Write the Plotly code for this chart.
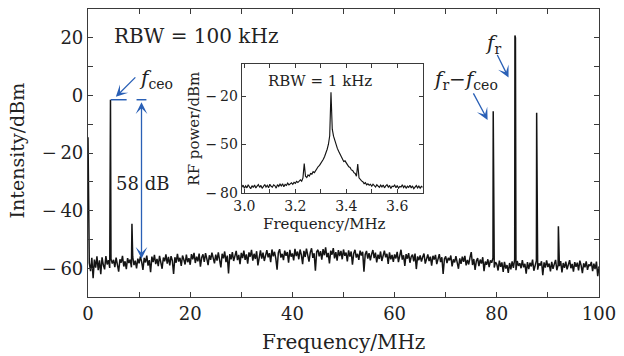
import numpy as np
import plotly.graph_objects as go

# ---------------- data ----------------
# main spectrum: noise floor sampled every 0.25 MHz from 0 to 100 MHz (dBm)
main_step = 0.25
main_noise = [
    -14.5, -58.2, -61.0, -56.4, -63.5, -57.0, -59.8, -55.9, -60.7, -57.3, -62.1, -56.2, -58.9, -60.4, -55.8, -58.7, -57.2, -59.9, -56.8, -58.4,
    -57.1, -59.6, -56.3, -58.8, -61.2, -56.9, -58.1, -55.7, -59.4, -57.6, -60.3, -56.5, -58.2, -57.0, -59.7, -56.1, -58.9, -57.4, -60.1, -56.7,
    -58.3, -55.9, -57.8, -60.6, -56.4, -58.0, -55.6, -59.1, -57.2, -61.4, -56.0, -57.9, -55.4, -58.6, -56.8, -59.3, -55.7, -57.5, -60.2, -56.3,
    -57.6, -55.2, -58.4, -56.1, -59.0, -55.8, -57.3, -62.0, -56.2, -58.1, -55.0, -57.7, -56.4, -59.2, -55.6, -57.0, -58.7, -55.3, -57.9, -56.5,
    -58.8, -55.1, -56.9, -54.7, -58.2, -56.0, -57.6, -54.9, -59.5, -56.3, -55.2, -57.8, -54.8, -56.7, -58.9, -55.5, -57.1, -54.6, -56.4, -58.3,
    -55.3, -57.4, -54.5, -56.8, -59.7, -55.0, -56.6, -54.2, -57.9, -55.6, -61.8, -55.1, -56.9, -54.4, -57.5, -55.8, -54.0, -57.2, -55.4, -58.6,
    -54.7, -56.5, -53.9, -57.1, -55.2, -58.4, -54.5, -56.0, -53.6, -57.4, -55.0, -56.8, -54.1, -59.0, -55.3, -53.8, -56.7, -54.6, -57.5, -55.1,
    -53.7, -56.2, -54.8, -57.9, -53.5, -55.9, -54.3, -56.6, -60.5, -54.6, -53.4, -56.3, -55.0, -57.2, -53.9, -55.7, -54.4, -58.1, -53.6, -56.0,
    -54.9, -57.3, -53.3, -55.8, -54.2, -56.9, -53.5, -55.4, -58.6, -54.0, -56.1, -53.2, -55.6, -57.7, -54.5, -53.1, -56.4, -54.8, -60.9, -54.3,
    -53.6, -55.9, -54.1, -57.0, -53.4, -55.5, -52.8, -56.2, -54.7, -58.3, -53.9, -55.3, -53.0, -56.6, -54.4, -57.4, -53.7, -55.8, -54.0, -56.9,
    -53.5, -55.7, -54.6, -57.6, -53.8, -56.0, -54.2, -58.8, -54.9, -53.6, -56.3, -55.0, -57.1, -53.9, -55.6, -54.3, -61.2, -55.2, -54.0, -56.7,
    -54.8, -57.3, -55.1, -53.7, -56.5, -54.6, -58.0, -55.3, -56.8, -54.2, -57.5, -55.7, -53.9, -56.2, -55.0, -58.5, -54.5, -56.9, -55.4, -57.8,
    -55.2, -56.6, -54.3, -57.9, -55.8, -53.6, -57.0, -55.5, -59.2, -55.1, -56.7, -54.8, -58.1, -56.0, -55.3, -57.6, -54.9, -60.3, -55.9, -57.2,
    -55.6, -57.7, -56.1, -54.9, -58.4, -56.3, -55.2, -57.5, -56.0, -59.1, -55.7, -57.0, -55.4, -58.6, -56.5, -55.1, -57.9, -56.2, -62.0, -56.8,
    -55.9, -58.2, -56.4, -57.3, -55.6, -59.4, -56.9, -58.0, -55.8, -57.6, -60.2, -56.6, -58.5, -56.0, -57.8, -55.7, -59.0, -57.1, -58.7, -56.3,
    -54.4, -58.9, -56.8, -60.6, -57.5, -56.5, -59.3, -57.0, -58.4, -56.2, -61.0, -57.7, -58.8, -56.9, -59.6, -57.3, -58.1, -56.4, -59.8, -57.9,
    -58.6, -60.8, -57.4, -59.5, -58.0, -61.3, -57.8, -60.1, -58.9, -61.6, -58.2, -60.4, -57.6, -59.9, -56.9, -60.7, -57.5, -59.2, -58.3, -60.0,
    -57.2, -59.7, -58.5, -61.9, -57.9, -60.3, -58.1, -59.4, -57.0, -60.9, -58.7, -57.4, -60.5, -58.3, -59.1, -57.6, -62.4, -58.0, -59.8, -57.3,
    -59.6, -58.4, -61.1, -57.8, -60.2, -58.6, -57.1, -60.7, -58.9, -59.3, -57.5, -61.5, -58.2, -59.9, -57.7, -60.4, -58.8, -57.2, -60.0, -58.5,
    -61.2, -57.9, -59.5, -58.1, -60.8, -57.4, -59.0, -61.7, -58.3, -59.7, -57.6, -60.6, -58.7, -59.2, -57.8, -61.0, -58.4, -60.3, -57.7, -62.8,
    -59.4,
]
# beat-note peaks (MHz, dBm): fceo, 2fceo, fr-fceo, fr (double), fr+fceo, fr+2fceo
peak_freqs = [4.4, 8.6, 79.3, 83.55, 83.65, 87.8, 92.05]
peak_levels = [-1.5, -44.6, -5.5, 20.8, 20.0, -6.0, -45.4]

# inset: RBW = 1 kHz zoom around fceo, sampled every 0.005 MHz from 2.99 to 3.70
inset_start = 2.99
inset_step = 0.005
inset_levels = [
    -76.4, -75.1, -77.0, -75.6, -76.8, -74.9, -76.2, -77.3, -75.4, -76.6,
    -75.0, -76.9, -75.7, -74.8, -76.5, -75.3, -77.1, -75.9, -74.7, -76.3,
    -75.2, -76.7, -74.6, -75.8, -76.4, -74.9, -75.5, -77.0, -74.8, -75.9,
    -74.5, -75.6, -74.2, -76.1, -74.7, -75.3, -73.9, -75.0, -74.4, -73.7,
    -74.6, -73.4, -74.0, -72.8, -73.5, -72.4, -71.9, -72.7, -70.6, -61.8,
    -69.6, -70.4, -68.8, -69.5, -67.9, -68.3, -66.8, -67.4, -65.9, -64.8,
    -63.6, -62.9, -61.8, -60.6, -59.1, -57.4, -55.4, -52.9, -49.8, -44.6,
    -17.7, -40.5, -44.8, -47.6, -50.1, -52.4, -54.2, -55.7, -57.2, -58.3,
    -60.5, -60.1, -61.9, -62.6, -63.8, -64.2, -65.7, -66.1, -67.4, -67.9,
    -69.6, -62.0, -70.6, -71.8, -72.5, -73.0, -74.2, -73.6, -74.9, -74.3,
    -75.2, -74.6, -75.8, -74.5, -75.5, -76.3, -74.9, -75.7, -76.5, -75.1,
    -76.2, -75.0, -76.8, -75.6, -74.8, -76.4, -75.3, -77.2, -75.8, -76.0,
    -75.1, -76.7, -75.4, -77.0, -75.9, -76.3, -74.9, -76.6, -75.5, -77.1,
    -75.8, -76.5, -75.2, -76.9, -75.6, -77.3, -76.0, -75.4, -76.8, -75.7,
    -77.0, -75.9, -76.4,
]

M = "\u2212\u2009"   # minus sign followed by a thin space (as in the original typesetting)
main_xticks = [0, 20, 40, 60, 80, 100]
main_xlabels = ["0", "20", "40", "60", "80", "100"]
main_xminor = [10, 30, 50, 70, 90]
main_yticks = [-60, -40, -20, 0, 20]
main_ylabels = [M + "60", M + "40", M + "20", "0", "20"]
main_yminor = [-50, -30, -10, 10]
inset_xticks = [3.0, 3.2, 3.4, 3.6]
inset_xlabels = ["3.0", "3.2", "3.4", "3.6"]
inset_xminor = [3.1, 3.3, 3.5, 3.7]
inset_yticks = [-80, -50, -20]
inset_ylabels = [M + "80", M + "50", M + "20"]

# ---------------- build traces ----------------
main_freq = np.round(np.arange(len(main_noise)) * main_step, 4)
pts = sorted(list(zip(main_freq.tolist(), main_noise)) + list(zip(peak_freqs, peak_levels)),
             key=lambda p: p[0])
mx = [p[0] for p in pts]
my = [p[1] for p in pts]

inset_freq = np.round(inset_start + np.arange(len(inset_levels)) * inset_step, 4)

FONT = "DejaVu Serif"
BLUE = "#2a60b6"
INK = "#141414"
AX = "#3a3a3a"

fig = go.Figure()
fig.add_trace(go.Scatter(x=mx, y=my, mode="lines", line=dict(color=INK, width=1.5),
                         xaxis="x", yaxis="y", showlegend=False, hoverinfo="skip"))
fig.add_trace(go.Scatter(x=inset_freq, y=inset_levels, mode="lines",
                         line=dict(color=INK, width=1.15),
                         xaxis="x2", yaxis="y2", showlegend=False, hoverinfo="skip"))

axis_common = dict(showgrid=False, zeroline=False, showline=True, mirror="ticks",
                   ticks="inside", tickcolor=AX, linecolor=AX, linewidth=1.2, tickwidth=1)


def minor(vals, ln):
    return dict(tickvals=vals, ticks="inside", ticklen=ln, tickcolor=AX, tickwidth=1,
                showgrid=False)


fig.update_layout(
    width=624, height=356,
    margin=dict(l=88, r=20, t=8, b=59),
    paper_bgcolor="white", plot_bgcolor="white",
    font=dict(family=FONT, color="#222222"),
    xaxis=dict(domain=[0, 1], range=[0, 100], tickvals=main_xticks, ticktext=main_xlabels,
               ticklen=5, tickfont=dict(size=18), minor=minor(main_xminor, 5), **axis_common),
    yaxis=dict(domain=[0, 1], range=[-70, 30], tickvals=main_yticks, ticktext=main_ylabels,
               ticklen=5, tickfont=dict(size=18), minor=minor(main_yminor, 5), **axis_common),
    xaxis2=dict(domain=[0.301, 0.655], anchor="y2", range=[2.99, 3.70],
                tickvals=inset_xticks, ticktext=inset_xlabels, ticklen=4,
                tickfont=dict(size=14), minor=minor(inset_xminor, 4), **axis_common),
    yaxis2=dict(domain=[0.361, 0.810], anchor="x2", range=[-80, 0],
                tickvals=inset_yticks, ticktext=inset_ylabels, ticklen=4,
                tickfont=dict(size=14), **axis_common),
)

ann = []
# axis titles
ann.append(dict(text="Frequency/MHz", xref="paper", yref="paper", x=0.5, y=-0.157,
                xanchor="center", yanchor="middle", showarrow=False, font=dict(size=20)))
ann.append(dict(text="Intensity/dBm", xref="paper", yref="paper", x=-0.1395, y=0.508,
                xanchor="center", yanchor="middle", textangle=-90, showarrow=False,
                font=dict(size=19)))
ann.append(dict(text="Frequency/MHz", xref="paper", yref="paper", x=0.463, y=0.252,
                xanchor="center", yanchor="middle", showarrow=False, font=dict(size=15)))
ann.append(dict(text="RF power/dBm", xref="paper", yref="paper", x=0.2074, y=0.5845,
                xanchor="center", yanchor="middle", textangle=-90, showarrow=False,
                font=dict(size=15)))
# RBW labels
ann.append(dict(text="RBW = 100 kHz", xref="x", yref="y", x=21.2, y=20.6,
                showarrow=False, font=dict(size=20)))
ann.append(dict(text="RBW = 1 kHz", xref="x2", yref="y2", x=3.295, y=-10.6,
                showarrow=False, font=dict(size=15)))
# peak labels
ann.append(dict(text="<i>f</i><sub>ceo</sub>", xref="x", yref="y", x=13.4, y=5.6,
                showarrow=False, font=dict(size=20)))
ann.append(dict(text="<i>f</i><sub>r</sub>", xref="x", yref="y", x=79.2, y=18.0,
                showarrow=False, font=dict(size=20)))
ann.append(dict(text="<i>f</i><sub>r</sub>\u2212<i>f</i><sub>ceo</sub>", xref="x", yref="y",
                x=73.8, y=5.2, showarrow=False, font=dict(size=20)))
ann.append(dict(text="58 dB", xref="x", yref="y", x=10.6, y=-30.6,
                showarrow=False, font=dict(size=18)))
# arrows
arrow_style = dict(showarrow=True, arrowcolor=BLUE, arrowwidth=1.3, arrowhead=3,
                   arrowsize=1.5, text="", standoff=0)
ann.append(dict(xref="x", yref="y", x=5.45, y=-0.5, ax=21, ay=-21, **arrow_style))
ann.append(dict(xref="x", yref="y", x=82.3, y=6.2, ax=-12, ay=-24, **arrow_style))
ann.append(dict(xref="x", yref="y", x=78.2, y=-8.5, ax=-15, ay=-28, **arrow_style))
ann.append(dict(xref="x", yref="y", x=10.47, y=-56.7, axref="x", ayref="y", ax=10.47, ay=-1.9,
                arrowside="end+start", startarrowhead=3, startarrowsize=1.5,
                startstandoff=0, **arrow_style))
fig.update_layout(annotations=ann)

fig.update_layout(shapes=[
    dict(type="line", xref="x", yref="y", x0=4.46, x1=7.56, y0=-1.5, y1=-1.5,
         line=dict(color=BLUE, width=1.5)),
    dict(type="line", xref="x", yref="y", x0=9.5, x1=11.43, y0=-1.5, y1=-1.5,
         line=dict(color=BLUE, width=1.5)),
])

# remove the browser's default 8px page margin so the 624x356 figure fills the window
fig.write_html("out.html",
               config={"displayModeBar": False},
               post_script="document.body.style.margin='0';document.body.style.overflow='hidden';")
